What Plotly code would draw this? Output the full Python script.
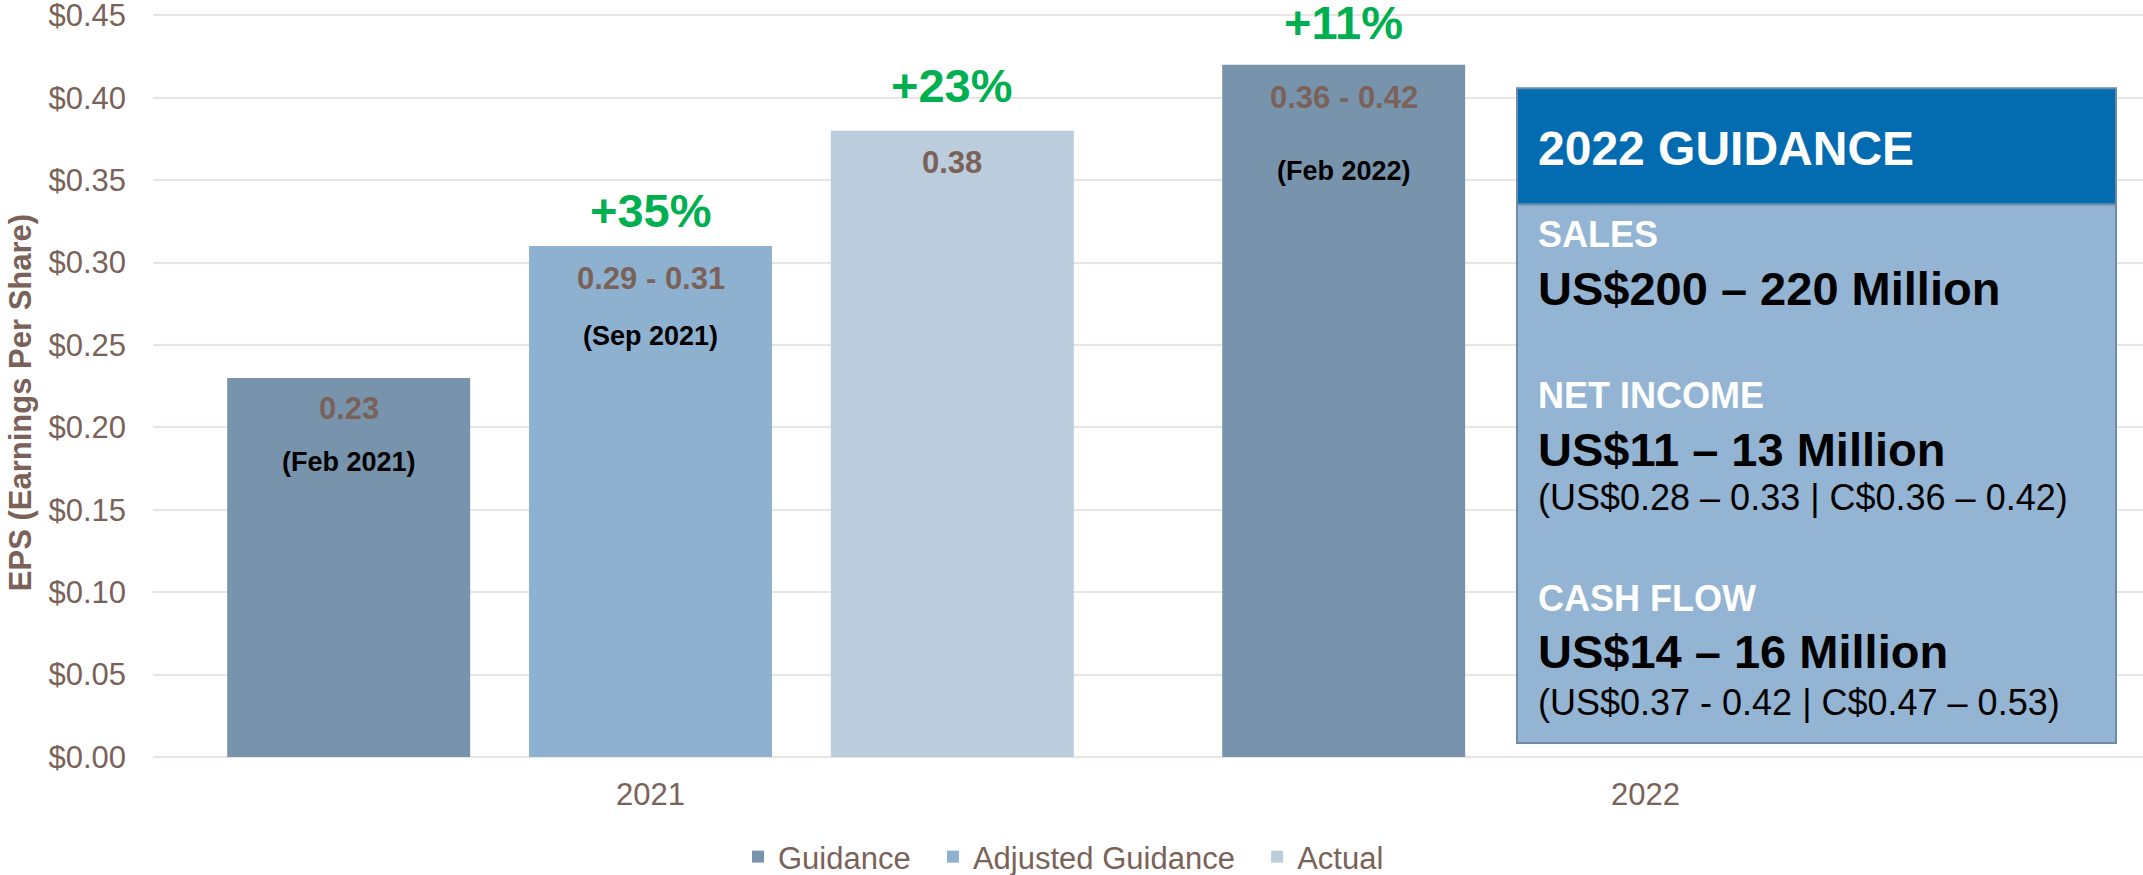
import plotly.graph_objects as go

# ---------------- data ----------------
categories = ["2021", "2022"]
guidance = [0.23, 0.42]
adjusted_guidance = [0.31, None]
actual = [0.38, None]

series_names = ["Guidance", "Adjusted Guidance", "Actual"]

# value labels (inside bars), date labels and growth labels
value_labels = [["0.23", "0.36 - 0.42"], ["0.29 - 0.31", None], ["0.38", None]]
date_labels = [["(Feb 2021)", "(Feb 2022)"], ["(Sep 2021)", None], [None, None]]
growth_labels = [[None, "+11%"], ["+35%", None], ["+23%", None]]

yticks = [0.0, 0.05, 0.10, 0.15, 0.20, 0.25, 0.30, 0.35, 0.40, 0.45]
ytick_text = ["$%.2f" % v for v in yticks]
YMAX = 0.452

box_title = "2022 GUIDANCE"
box_lines = [
    ("SALES", "head"),
    ("US$200 – 220 Million", "big"),
    ("NET INCOME", "head"),
    ("US$11 – 13 Million", "big"),
    ("(US$0.28 – 0.33 | C$0.36 – 0.42)", "small"),
    ("CASH FLOW", "head"),
    ("US$14 – 16 Million", "big"),
    ("(US$0.37 - 0.42 | C$0.47 – 0.53)", "small"),
]
box_line_y = [234, 288, 395, 449, 497, 598, 651, 702]   # pixel rows in the box

# ---------------- style ----------------
FONT = "Liberation Sans, Arial, sans-serif"
BROWN = "#7A6259"
GREEN = "#00B050"
GRID = "#EAE5E2"
colors = ["#7893AC", "#8FB1D0", "#BBCCDD"]
LEGEND_PAD = "\u00a0\u00a0"     # extra spacing between legend entries

# the page body margin is removed (post_script), so the figure fills the window
W, H = 2143, 875
PLOT_L, PLOT_B = 153, 757          # pixel coordinates of the plot area
Y45_PAGE = 15                      # pixel row of the top tick
PLOT_T = PLOT_B - (PLOT_B - Y45_PAGE) * YMAX / yticks[-1]
ML = PLOT_L
MT = PLOT_T
MB = H - PLOT_B
MR = 0
PW, PH = W - ML - MR, H - MT - MB

BARGAP = 0.09
BARGROUPGAP = 0.195

fig = go.Figure()
series = [guidance, adjusted_guidance, actual]
for name, vals, col in zip(series_names, series, colors):
    fig.add_trace(go.Bar(
        name=name + LEGEND_PAD, x=categories, y=vals,
        marker=dict(color=col, line=dict(width=0)),
        hoverinfo="skip",
    ))

# slot offsets of grouped bars (in category units)
n = len(series)
slot = (1 - BARGAP) / n
offsets = [(-(n - 1) / 2 + i) * slot for i in range(n)]

annotations = []
# per-bar label shifts (pixels) relative to bar top
val_shift = [[-31, -33], [-32, None], [-32, None]]
date_shift = [[-84, -106], [-90, None], [None, None]]
grow_shift = [[None, 42], [36, None], [45, None]]

for si, vals in enumerate(series):
    for ci, v in enumerate(vals):
        if v is None:
            continue
        xpos = ci + offsets[si]
        if value_labels[si][ci]:
            annotations.append(dict(
                x=xpos, y=v, xref="x", yref="y", text="<b>%s</b>" % value_labels[si][ci],
                showarrow=False, yshift=val_shift[si][ci], yanchor="middle",
                font=dict(family=FONT, size=31, color=BROWN)))
        if date_labels[si][ci]:
            annotations.append(dict(
                x=xpos, y=v, xref="x", yref="y", text="<b>%s</b>" % date_labels[si][ci],
                showarrow=False, yshift=date_shift[si][ci], yanchor="middle",
                font=dict(family=FONT, size=27, color="#000000")))
        if growth_labels[si][ci]:
            annotations.append(dict(
                x=xpos, y=v, xref="x", yref="y", text="<b>%s</b>" % growth_labels[si][ci],
                showarrow=False, yshift=grow_shift[si][ci], yanchor="middle",
                font=dict(family=FONT, size=47, color=GREEN)))


def px_x(p):
    """pixel x -> paper coordinate"""
    return (p - ML) / PW


def px_y(p):
    """pixel y -> paper coordinate"""
    return (H - MB - p) / PH


# y-axis title
annotations.append(dict(
    x=px_x(20), y=px_y(403), xref="paper", yref="paper",
    text="<b>EPS (Earnings Per Share)</b>", textangle=-90, showarrow=False,
    xanchor="center", yanchor="middle",
    font=dict(family=FONT, size=31, color=BROWN)))

# guidance box
box_l, box_r, box_t, box_hb, box_b = 1517, 2116, 88, 204, 743
shapes = [
    dict(type="rect", xref="paper", yref="paper",
         x0=px_x(box_l), x1=px_x(box_r), y0=px_y(box_b), y1=px_y(box_hb),
         fillcolor="#94B4D3", line=dict(color="#6D8BA7", width=2), layer="above"),
    dict(type="rect", xref="paper", yref="paper",
         x0=px_x(box_l), x1=px_x(box_r), y0=px_y(box_hb), y1=px_y(box_t),
         fillcolor="#036BB0", line=dict(color="#6D8BA7", width=2), layer="above"),
]
annotations.append(dict(
    x=px_x(1536), y=px_y(148), xref="paper", yref="paper", text="<b>%s</b>" % box_title,
    showarrow=False, xanchor="left", yanchor="middle",
    font=dict(family=FONT, size=48, color="#FFFFFF")))
styles = {
    "head": dict(size=36, color="#FFFFFF", bold=True),
    "big": dict(size=47, color="#000000", bold=True),
    "small": dict(size=36, color="#000000", bold=False),
}
for (txt, kind), yy in zip(box_lines, box_line_y):
    st = styles[kind]
    annotations.append(dict(
        x=px_x(1536), y=px_y(yy), xref="paper", yref="paper",
        text=("<b>%s</b>" % txt) if st["bold"] else txt,
        showarrow=False, xanchor="left", yanchor="middle",
        font=dict(family=FONT, size=st["size"], color=st["color"])))

fig.update_layout(
    width=W, height=H,
    margin=dict(l=ML, r=MR, t=MT, b=MB, autoexpand=False),
    paper_bgcolor="white", plot_bgcolor="white",
    barmode="group", bargap=BARGAP, bargroupgap=BARGROUPGAP,
    font=dict(family=FONT, color=BROWN),
    showlegend=True,
    legend=dict(orientation="h", x=px_x(738), xanchor="left",
                y=px_y(857), yanchor="middle",
                font=dict(family=FONT, size=31, color=BROWN),
                itemclick=False, itemdoubleclick=False),
    annotations=annotations,
    shapes=shapes,
)
fig.update_xaxes(
    type="category", showgrid=False, showline=False, ticks="",
    tickfont=dict(family=FONT, size=31, color=BROWN), ticklabelstandoff=16,
)
fig.update_yaxes(
    range=[0, YMAX], tickvals=yticks, ticktext=ytick_text,
    showgrid=True, gridcolor=GRID, gridwidth=2,
    zeroline=True, zerolinecolor=GRID, zerolinewidth=2,
    showline=False, ticks="", ticklabeloverflow="allow",
    tickfont=dict(family=FONT, size=31, color=BROWN), ticklabelstandoff=26,
)

fig.write_html("out.html", config={"displayModeBar": False},
               post_script="document.body.style.margin='0px';")
